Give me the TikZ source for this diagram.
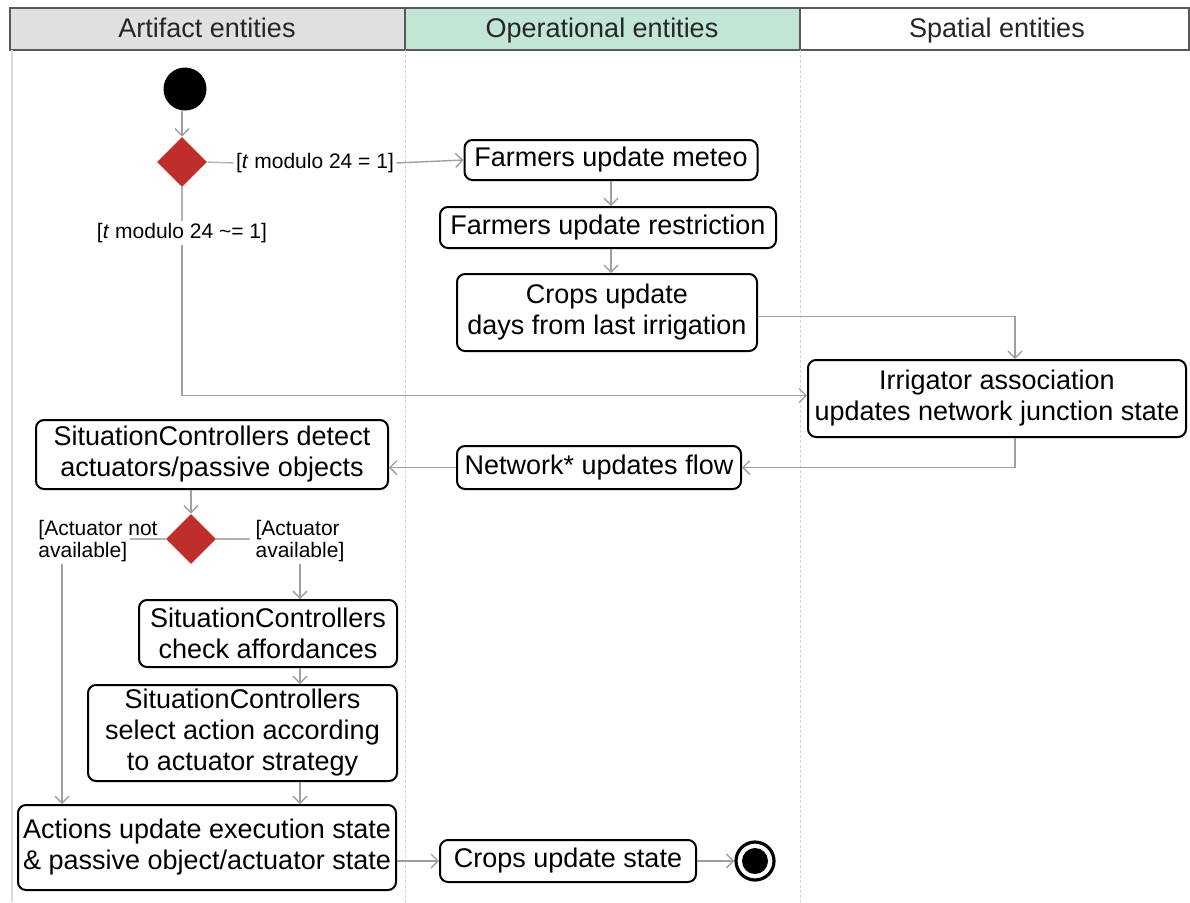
\documentclass[tikz,border=0pt]{standalone}
\usepackage{fontspec}
\setmainfont{Liberation Sans}
\usetikzlibrary{arrows.meta}
\usetikzlibrary{shapes.geometric}
\definecolor{grisentete}{HTML}{E0E0E0}
\definecolor{vertentete}{HTML}{C2E6D5}
\definecolor{rougedec}{HTML}{BE2E2B}

\begin{document}
\begin{tikzpicture}[x=0.5pt, y=-0.5pt,
    act/.style={draw, line width=1pt, rounded corners=4pt, align=center, inner sep=1pt,
        font=\fontsize{13.5}{15.5}\selectfont},
    entete/.style={font=\fontsize{13.5}{15}\selectfont, text=black!85, text height=10pt, text depth=3pt},
    garde/.style={font=\fontsize{10.5}{11}\selectfont, inner sep=1pt, align=left},
    losange/.style={diamond, fill=rougedec, minimum width=25pt, minimum height=25pt, inner sep=0pt},
    fleche/.style={draw=gray!75, line width=0.7pt, -{Straight Barb[length=3.5pt,width=7pt]}},
    trait/.style={draw=gray!60, line width=0.7pt}]
    \useasboundingbox (0,0) rectangle (1190,902);
    % en-tete des couloirs
    \fill[grisentete] (10,8) rectangle (405,50);
    \fill[vertentete] (405,8) rectangle (800,50);
    \draw[black!65, line width=1pt] (10,8) rectangle (1189,50);
    \draw[black!65, line width=1pt] (405,8) -- (405,50);
    \draw[black!65, line width=1pt] (800,8) -- (800,50);
    \node[entete] (artefact) at (207,30) {Artifact entities};
    \node[entete] (operation) at (602,30) {Operational entities};
    \node[entete] (spatial) at (997,30) {Spatial entities};
    %couloirs
    \draw[gray!30, line width=1pt] (12,50) -- (12,902);
    \draw[gray!35, line width=0.5pt, dash pattern=on 1.5pt off 1pt] (405,50) -- (405,902);
    \draw[gray!35, line width=0.5pt, dash pattern=on 1.5pt off 1pt] (800,50) -- (800,902);
    %noeuds
    \node[circle, fill=black, minimum size=21.5pt, inner sep=0pt] (debut) at (185,89) {};
    \node[losange] (dec1) at (182,162) {};
    \node[garde] (g1) at (315,163) {[\textit{t} modulo 24 = 1]};
    \node[garde] (g2) at (182,233) {[\textit{t} modulo 24 \textasciitilde= 1]};
    \node[act, minimum width=146.5pt, minimum height=20pt] (meteo) at (611,160) {Farmers update meteo};
    \node[act, minimum width=168pt, minimum height=20.5pt] (restr) at (608,227.5) {Farmers update restriction};
    \node[act, minimum width=150pt, minimum height=38.5pt] (jours) at (607,312.5) {Crops update\\days from last irrigation};
    \node[act, minimum width=189pt, minimum height=38.5pt] (irrig) at (997,398.5) {Irrigator association\\updates network junction state};
    \node[act, minimum width=142pt, minimum height=21.5pt] (reseau) at (599,467.5) {Network* updates flow};
    \node[act, minimum width=176pt, minimum height=34.5pt] (detect) at (212,454.5) {SituationControllers detect\\actuators/passive objects};
    \node[losange] (dec2) at (191,539) {};
    \node[garde] (g3) at (98,541) {[Actuator not\\available]};
    \node[garde] (g4) at (300,541) {[Actuator\\available]};
    \coordinate (c3) at (130,539);
    \coordinate (c4) at (250,539);
    \node[act, minimum width=129pt, minimum height=33.5pt] (verif) at (268,633.5) {SituationControllers\\check affordances};
    \node[act, minimum width=154.5pt, minimum height=48pt] (choix) at (242.5,733) {SituationControllers\\select action according\\to actuator strategy};
    \node[act, minimum width=189pt, minimum height=42.5pt] (actions) at (207,847.5) {Actions update execution state\\\& passive object/actuator state};
    \node[act, minimum width=128pt, minimum height=21pt] (etat) at (568,861) {Crops update state};
    \node[circle, draw=black, line width=1.6pt, minimum size=19pt, inner sep=0pt] (fin) at (755,861) {};
    \fill[black] (fin.center) circle (6.5pt);
    %connecteurs
    \draw[fleche] (debut.south -| dec1.north) -- (dec1.north);
    \draw[trait] (dec1.east) -- (g1.west);
    \draw[fleche] (g1.east) -- (meteo.west);
    \draw[trait] (dec1.south) -- (g2.north);
    \draw[fleche] (g2.south) |- ([yshift=1.5pt]irrig.west);
    \draw[fleche] (meteo.south) -- (meteo.south |- restr.north);
    \draw[fleche] (restr.south -| meteo.south) -- (jours.north -| meteo.south);
    \draw[fleche] ([yshift=-2pt]jours.east) -| ([xshift=9pt]irrig.north);
    \draw[fleche] ([xshift=9pt]irrig.south) |- (reseau.east);
    \draw[fleche] (reseau.west) -- (reseau.west -| detect.east);
    \draw[fleche] (detect.south -| dec2.north) -- (dec2.north);
    \draw[trait] (dec2.west) -- (c3);
    \draw[trait] (dec2.east) -- (c4);
    \draw[fleche] ([xshift=-18pt]g3.south) -- ([xshift=-18pt]g3.south |- actions.north);
    \draw[fleche] (g4.south) -- (g4.south |- verif.north);
    \draw[fleche] (verif.south -| g4.south) -- (choix.north -| g4.south);
    \draw[fleche] (choix.south -| g4.south) -- (actions.north -| g4.south);
    \draw[fleche] (actions.east |- etat.west) -- (etat.west);
    \draw[fleche] (etat.east) -- (fin.west);
\end{tikzpicture}
\end{document}
